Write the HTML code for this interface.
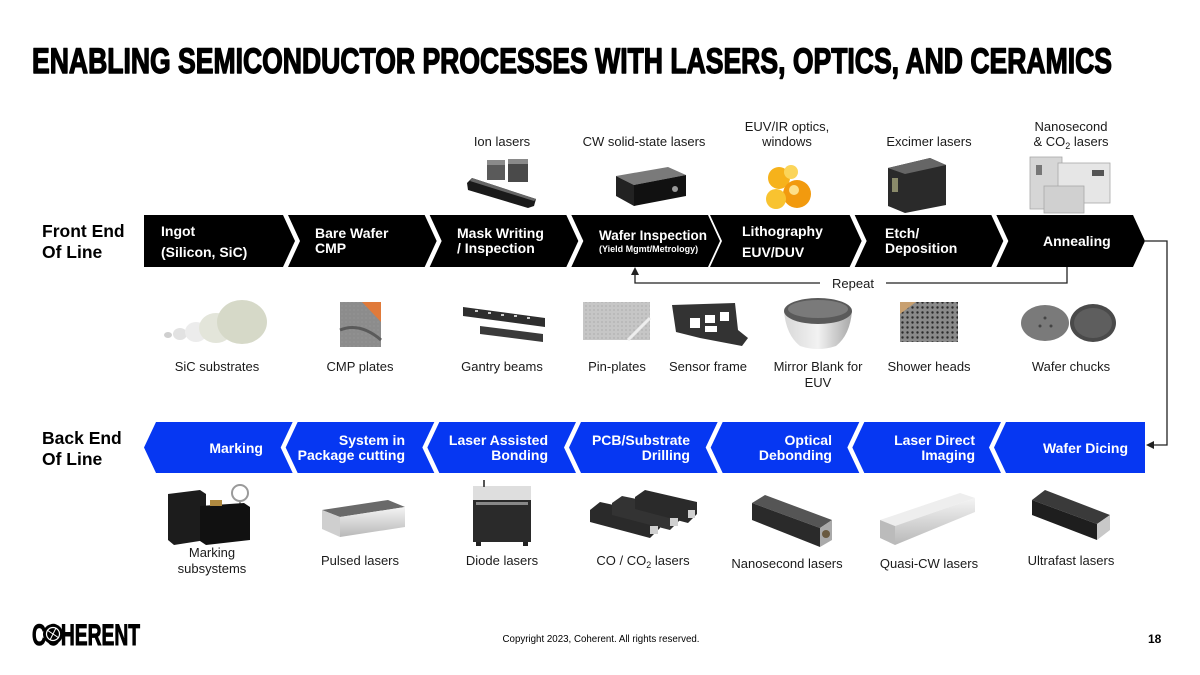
<!DOCTYPE html>
<html>
<head>
<meta charset="utf-8">
<style>
  html,body{margin:0;padding:0;background:#fff;}
  svg{display:block;}
  text{font-family:"Liberation Sans", Arial, sans-serif;}
</style>
</head>
<body>
<svg width="1200" height="675" viewBox="0 0 1200 675" xmlns="http://www.w3.org/2000/svg">
  <defs>
    <pattern id="dots" x="0" y="0" width="5" height="5" patternUnits="userSpaceOnUse">
      <circle cx="2.5" cy="2.5" r="1.2" fill="#2a2a2a"/>
    </pattern>
    <pattern id="dots2" x="0" y="0" width="4" height="4" patternUnits="userSpaceOnUse">
      <circle cx="2" cy="2" r="0.6" fill="#9a9a9a"/>
    </pattern>
    <linearGradient id="silver" x1="0" y1="0" x2="0" y2="1">
      <stop offset="0" stop-color="#f4f4f4"/>
      <stop offset="1" stop-color="#b8b8b8"/>
    </linearGradient>
    <linearGradient id="mirror" x1="0" y1="0" x2="1" y2="0">
      <stop offset="0" stop-color="#d8d8d8"/>
      <stop offset="0.5" stop-color="#f2f2f2"/>
      <stop offset="1" stop-color="#a8a8a8"/>
    </linearGradient>
  </defs>

  <!-- Title -->
  <text x="32" y="73" font-size="35" font-weight="bold" fill="#000" stroke="#000" stroke-width="1.4" stroke-linejoin="round" textLength="1080" lengthAdjust="spacingAndGlyphs">ENABLING SEMICONDUCTOR PROCESSES WITH LASERS, OPTICS, AND CERAMICS</text>

  <!-- Top labels -->
  <g font-size="13" fill="#1a1a1a" text-anchor="middle">
    <text x="502" y="146">Ion lasers</text>
    <text x="644" y="146">CW solid-state lasers</text>
    <text x="787" y="131">EUV/IR optics,</text>
    <text x="787" y="146">windows</text>
    <text x="929" y="146">Excimer lasers</text>
    <text x="1071" y="131">Nanosecond</text>
    <text x="1071" y="146">&amp; CO<tspan font-size="9" dy="3">2</tspan><tspan dy="-3"> lasers</tspan></text>
  </g>

  <!-- Top images -->
  <g>
    <rect x="487" y="160" width="18" height="20" fill="#5a5a5a"/>
    <rect x="487" y="160" width="18" height="5" fill="#8a8a8a"/>
    <rect x="508" y="159" width="20" height="23" fill="#4a4a4a"/>
    <rect x="508" y="159" width="20" height="5" fill="#8a8a8a"/>
    <polygon points="467,183 472,178 536,199 534,206 528,208 468,190" fill="#1a1a1a"/>
    <polygon points="472,178 536,199 534,201 470,181" fill="#666"/>
  </g>
  <g>
    <polygon points="616,176 668,167 686,175 634,185" fill="#7a7a7a"/>
    <polygon points="616,176 634,185 634,206 616,196" fill="#222"/>
    <polygon points="634,185 686,175 686,196 634,206" fill="#111"/>
    <circle cx="675" cy="189" r="3" fill="#999"/>
  </g>
  <g>
    <circle cx="779" cy="178" r="11" fill="#f6b21b"/>
    <circle cx="797" cy="194" r="14" fill="#f29a0e"/>
    <circle cx="776" cy="199" r="10" fill="#f8c330"/>
    <circle cx="791" cy="172" r="7" fill="#fbd55a"/>
    <circle cx="794" cy="190" r="5" fill="#fde08a"/>
  </g>
  <g>
    <polygon points="888,168 930,158 946,165 946,205 905,213 888,206" fill="#2a2a2a"/>
    <polygon points="888,168 930,158 946,165 905,174" fill="#666"/>
    <rect x="892" y="178" width="6" height="14" fill="#8a8a6a"/>
  </g>
  <g stroke="#a8a8a8" stroke-width="0.8">
    <rect x="1030" y="157" width="32" height="52" fill="#d6d6d6"/>
    <rect x="1058" y="163" width="52" height="40" fill="#e6e6e6"/>
    <rect x="1044" y="186" width="40" height="27" fill="#d0d0d0"/>
    <rect x="1092" y="170" width="12" height="6" fill="#555" stroke="none"/>
    <rect x="1036" y="165" width="6" height="10" fill="#777" stroke="none"/>
  </g>

  <!-- Front End label -->
  <g font-size="17.5" font-weight="bold" fill="#000">
    <text x="42" y="237">Front End</text>
    <text x="42" y="258">Of Line</text>
  </g>

  <!-- Front bar -->
  <g fill="#000">
    <polygon points="144,215 283,215 295,241 283,267 144,267"/>
    <polygon points="288,215 424.67,215 436.67,241 424.67,267 288,267 300,241"/>
    <polygon points="429.67,215 566.33,215 578.33,241 566.33,267 429.67,267 441.67,241"/>
    <polygon points="571.33,215 708,215 720,241 708,267 571.33,267 583.33,241"/>
    <polygon points="710,215 849.67,215 861.67,241 849.67,267 710,267 722,241"/>
    <polygon points="854.67,215 991.33,215 1003.33,241 991.33,267 854.67,267 866.67,241"/>
    <polygon points="996.33,215 1133,215 1145,241 1133,267 996.33,267 1008.33,241"/>
  </g>
  <g font-size="14" font-weight="bold" fill="#fff">
    <text x="161" y="236">Ingot</text>
    <text x="161" y="257">(Silicon, SiC)</text>
    <text x="315" y="238">Bare Wafer</text>
    <text x="315" y="253">CMP</text>
    <text x="457" y="238">Mask Writing</text>
    <text x="457" y="253">/ Inspection</text>
    <text x="599" y="240" font-size="14" textLength="108" lengthAdjust="spacingAndGlyphs">Wafer Inspection</text>
    <text x="599" y="252" font-size="9">(Yield Mgmt/Metrology)</text>
    <text x="742" y="236">Lithography</text>
    <text x="742" y="257">EUV/DUV</text>
    <text x="885" y="238">Etch/</text>
    <text x="885" y="253">Deposition</text>
    <text x="1043" y="246">Annealing</text>
  </g>

  <!-- Repeat loop -->
  <g stroke="#222" stroke-width="1.3" fill="none">
    <path d="M1067,267 V283 H886"/>
    <path d="M820,283 H635 V274"/>
  </g>
  <polygon points="635,267 631,275 639,275" fill="#222"/>
  <text x="853" y="288" font-size="13" fill="#1a1a1a" text-anchor="middle">Repeat</text>

  <!-- Right connector -->
  <path d="M1145,241 H1167 V445 H1153" stroke="#222" stroke-width="1.3" fill="none"/>
  <polygon points="1146,445 1154,441 1154,449" fill="#222"/>

  <!-- Middle images -->
  <g>
    <ellipse cx="168" cy="335" rx="4" ry="3" fill="#cfcfcf"/>
    <ellipse cx="180" cy="334" rx="7" ry="6" fill="#e2e2e2"/>
    <ellipse cx="196" cy="332" rx="11" ry="10" fill="#ececec"/>
    <ellipse cx="216" cy="328" rx="17" ry="15" fill="#e3e5da"/>
    <ellipse cx="242" cy="322" rx="25" ry="22" fill="#d6d9c8"/>
  </g>
  <g>
    <rect x="340" y="302" width="41" height="45" fill="#8c8c8c"/>
    <rect x="340" y="302" width="41" height="45" fill="url(#dots2)"/>
    <polygon points="362,302 381,302 381,322" fill="#e07a3a"/>
    <path d="M340,330 Q360,322 381,340" stroke="#5a5a5a" stroke-width="3" fill="none"/>
  </g>
  <g>
    <polygon points="463,307 545,318 545,327 463,316" fill="#2e2e2e"/>
    <polygon points="480,326 543,334 543,342 480,334" fill="#3a3a3a"/>
    <g fill="#ccc">
      <rect x="475" y="310" width="3" height="2"/><rect x="488" y="312" width="3" height="2"/>
      <rect x="501" y="314" width="3" height="2"/><rect x="514" y="315" width="3" height="2"/>
      <rect x="527" y="317" width="3" height="2"/>
    </g>
  </g>
  <g>
    <rect x="583" y="302" width="67" height="38" fill="#c6c6c6"/>
    <rect x="583" y="302" width="67" height="38" fill="url(#dots2)"/>
    <path d="M628,340 L650,318" stroke="#eee" stroke-width="3"/>
  </g>
  <g>
    <polygon points="672,305 735,303 738,330 748,338 742,346 700,338 676,332" fill="#333"/>
    <rect x="690" y="318" width="10" height="10" fill="#fff"/>
    <rect x="705" y="315" width="10" height="8" fill="#fff"/>
    <rect x="720" y="312" width="9" height="9" fill="#fff"/>
    <rect x="705" y="326" width="12" height="6" fill="#fff"/>
  </g>
  <g>
    <path d="M784,311 Q786,335 800,346 Q818,352 836,346 Q850,335 852,311 Z" fill="url(#mirror)"/>
    <ellipse cx="818" cy="311" rx="34" ry="13" fill="#5a5a5a"/>
    <ellipse cx="818" cy="309" rx="30" ry="9" fill="#7a7a7a"/>
  </g>
  <g>
    <rect x="900" y="302" width="58" height="40" fill="#8a8a8a"/>
    <rect x="900" y="302" width="58" height="40" fill="url(#dots)"/>
    <polygon points="900,302 916,302 900,314" fill="#c8a070"/>
  </g>
  <g>
    <ellipse cx="1045" cy="323" rx="24" ry="18" fill="#7a7a7a"/>
    <circle cx="1045" cy="318" r="1.5" fill="#444"/>
    <circle cx="1040" cy="326" r="1.5" fill="#444"/>
    <circle cx="1051" cy="326" r="1.5" fill="#444"/>
    <ellipse cx="1093" cy="323" rx="23" ry="19" fill="#4a4a4a"/>
    <ellipse cx="1093" cy="323" rx="19" ry="15" fill="#5e5e5e"/>
  </g>

  <!-- Middle labels -->
  <g font-size="13" fill="#1a1a1a" text-anchor="middle">
    <text x="217" y="371">SiC substrates</text>
    <text x="360" y="371">CMP plates</text>
    <text x="502" y="371">Gantry beams</text>
    <text x="617" y="371">Pin-plates</text>
    <text x="708" y="371">Sensor frame</text>
    <text x="818" y="371">Mirror Blank for</text>
    <text x="818" y="387">EUV</text>
    <text x="929" y="371">Shower heads</text>
    <text x="1071" y="371">Wafer chucks</text>
  </g>

  <!-- Back End label -->
  <g font-size="17.5" font-weight="bold" fill="#000">
    <text x="42" y="444">Back End</text>
    <text x="42" y="465">Of Line</text>
  </g>

  <!-- Back bar -->
  <g fill="#0637f2">
    <polygon points="144,447.5 156,422 292.67,422 280.67,447.5 292.67,473 156,473"/>
    <polygon points="285.67,447.5 297.67,422 434.33,422 422.33,447.5 434.33,473 297.67,473"/>
    <polygon points="427.33,447.5 439.33,422 576,422 564,447.5 576,473 439.33,473"/>
    <polygon points="569,447.5 581,422 717.67,422 705.67,447.5 717.67,473 581,473"/>
    <polygon points="710.67,447.5 722.67,422 859.33,422 847.33,447.5 859.33,473 722.67,473"/>
    <polygon points="852.33,447.5 864.33,422 1001,422 989,447.5 1001,473 864.33,473"/>
    <polygon points="994,447.5 1006,422 1145,422 1145,473 1006,473"/>
  </g>
  <g font-size="14" font-weight="bold" fill="#fff" text-anchor="end">
    <text x="263" y="453">Marking</text>
    <text x="405" y="445">System in</text>
    <text x="405" y="460">Package cutting</text>
    <text x="548" y="445">Laser Assisted</text>
    <text x="548" y="460">Bonding</text>
    <text x="690" y="445">PCB/Substrate</text>
    <text x="690" y="460">Drilling</text>
    <text x="832" y="445">Optical</text>
    <text x="832" y="460">Debonding</text>
    <text x="975" y="445">Laser Direct</text>
    <text x="975" y="460">Imaging</text>
    <text x="1128" y="453">Wafer Dicing</text>
  </g>

  <!-- Bottom images -->
  <g>
    <circle cx="240" cy="493" r="8" fill="none" stroke="#9a9a9a" stroke-width="2"/>
    <path d="M240,501 V512" stroke="#9a9a9a" stroke-width="2"/>
    <polygon points="168,494 200,490 206,494 206,540 174,545 168,540" fill="#1c1c1c"/>
    <polygon points="200,506 244,503 250,507 250,540 206,545 200,541" fill="#111"/>
    <rect x="210" y="500" width="12" height="6" fill="#b08a40"/>
  </g>
  <g>
    <polygon points="322,510 388,500 405,507 340,517" fill="#6a6a6a"/>
    <polygon points="322,510 340,517 340,537 322,529" fill="#cfcfcf"/>
    <polygon points="340,517 405,507 405,527 340,537" fill="url(#silver)"/>
  </g>
  <g>
    <rect x="473" y="486" width="58" height="14" fill="#dedede"/>
    <rect x="473" y="500" width="58" height="42" fill="#2a2a2a"/>
    <rect x="476" y="502" width="52" height="3" fill="#888"/>
    <rect x="476" y="542" width="5" height="4" fill="#222"/>
    <rect x="523" y="542" width="5" height="4" fill="#222"/>
    <rect x="483" y="480" width="2" height="7" fill="#555"/>
  </g>
  <g>
    <polygon points="590,510 600,502 660,515 660,528 650,538 590,522" fill="#2a2a2a"/>
    <polygon points="612,503 622,496 680,508 680,520 670,530 612,515" fill="#333"/>
    <polygon points="635,497 645,490 697,502 697,514 688,523 635,509" fill="#2a2a2a"/>
    <rect x="650" y="526" width="8" height="8" fill="#d0d0d0"/>
    <rect x="670" y="518" width="8" height="8" fill="#d0d0d0"/>
    <rect x="688" y="510" width="7" height="8" fill="#d0d0d0"/>
  </g>
  <g>
    <polygon points="752,503 765,495 832,520 820,528" fill="#555"/>
    <polygon points="752,503 820,528 820,547 752,520" fill="#2a2a2a"/>
    <polygon points="820,528 832,520 832,540 820,547" fill="#aaa"/>
    <circle cx="826" cy="534" r="4" fill="#6a5a40"/>
  </g>
  <g>
    <polygon points="880,520 960,493 975,498 895,526" fill="#eee"/>
    <polygon points="880,520 895,526 895,545 880,538" fill="#bbb"/>
    <polygon points="895,526 975,498 975,512 895,545" fill="url(#silver)"/>
  </g>
  <g>
    <polygon points="1032,500 1045,490 1110,515 1097,524" fill="#3a3a3a"/>
    <polygon points="1032,500 1097,524 1097,540 1032,515" fill="#1e1e1e"/>
    <polygon points="1097,524 1110,515 1110,530 1097,540" fill="#c8c8c8"/>
  </g>

  <!-- Bottom labels -->
  <g font-size="13" fill="#1a1a1a" text-anchor="middle">
    <text x="212" y="557">Marking</text>
    <text x="212" y="573">subsystems</text>
    <text x="360" y="565">Pulsed lasers</text>
    <text x="502" y="565">Diode lasers</text>
    <text x="643" y="565">CO / CO<tspan font-size="9" dy="3">2</tspan><tspan dy="-3"> lasers</tspan></text>
    <text x="787" y="568">Nanosecond lasers</text>
    <text x="929" y="568">Quasi-CW lasers</text>
    <text x="1071" y="565">Ultrafast lasers</text>
  </g>

  <!-- Footer -->
  <text x="32" y="645" font-size="30" font-weight="bold" fill="#000" stroke="#000" stroke-width="1" textLength="108" lengthAdjust="spacingAndGlyphs">COHERENT</text>
  <g>
    <circle cx="53" cy="634" r="10" fill="#000"/>
    <circle cx="53" cy="634" r="6.5" fill="none" stroke="#fff" stroke-width="1.2"/>
    <path d="M47,630 L59,638 M50,640 L56,628" stroke="#fff" stroke-width="1"/>
  </g>
  <text x="601" y="642" font-size="10" fill="#000" text-anchor="middle" textLength="197" lengthAdjust="spacingAndGlyphs">Copyright 2023, Coherent. All rights reserved.</text>
  <text x="1148" y="643" font-size="12" font-weight="bold" fill="#000">18</text>
</svg>
</body>
</html>
